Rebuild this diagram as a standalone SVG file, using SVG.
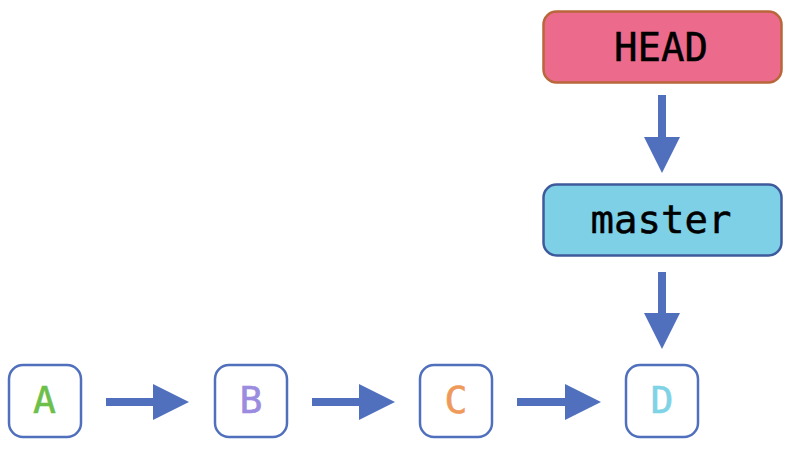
<svg xmlns="http://www.w3.org/2000/svg" width="800" height="450" viewBox="0 0 800 450">
<defs>
<style>
.commit{fill:#ffffff;stroke:#5070BE;stroke-width:2.5}
.ctext{font-family:"DejaVu Sans Mono",monospace;font-size:38px;text-anchor:middle;stroke-width:0.6}
.ref{stroke-width:2.5}
.rtext{font-family:"DejaVu Sans Mono",monospace;font-size:39px;text-anchor:middle;fill:#000000;stroke:#000000;stroke-width:0.5}
.shaft{stroke:#5070BE;stroke-width:8;fill:none}
.head{fill:#5070BE}
</style>
</defs>
<g id="HEAD">
<rect class="ref" x="543.5" y="11.5" width="238" height="71" rx="13" fill="#EC6B8C" stroke="#B8663A"/>
<text class="rtext" x="661" y="61">HEAD</text>
</g>
<g id="master">
<rect class="ref" x="543.5" y="184.5" width="238" height="71" rx="13" fill="#7DD0E5" stroke="#3F5A9C"/>
<text class="rtext" x="661" y="233">master</text>
</g>
<g id="A">
<rect class="commit" x="9" y="365" width="72" height="72" rx="14"/>
<text class="ctext" x="44.5" y="413" fill="#6CC04A" stroke="#6CC04A">A</text>
</g>
<g id="B">
<rect class="commit" x="215" y="365" width="72" height="72" rx="14"/>
<text class="ctext" x="251" y="413" fill="#9B8CE0" stroke="#9B8CE0">B</text>
</g>
<g id="C">
<rect class="commit" x="420" y="365" width="72" height="72" rx="14"/>
<text class="ctext" x="456" y="413" fill="#EF9A5A" stroke="#EF9A5A">C</text>
</g>
<g id="D">
<rect class="commit" x="626" y="365" width="72" height="72" rx="14"/>
<text class="ctext" x="662" y="413" fill="#7FD3E6" stroke="#7FD3E6">D</text>
</g>
<g id="connectors">
<line class="shaft" x1="662" y1="95" x2="662" y2="138"/>
<polygon class="head" points="644,137 680,137 662,173"/>
<line class="shaft" x1="662" y1="272" x2="662" y2="314"/>
<polygon class="head" points="644,313 680,313 662,349"/>
<line class="shaft" x1="106" y1="402" x2="154" y2="402"/>
<polygon class="head" points="153,384 153,420 189,402"/>
<line class="shaft" x1="312" y1="402" x2="360" y2="402"/>
<polygon class="head" points="359,384 359,420 395,402"/>
<line class="shaft" x1="517" y1="402" x2="566" y2="402"/>
<polygon class="head" points="565,384 565,420 601,402"/>
</g>
</svg>
